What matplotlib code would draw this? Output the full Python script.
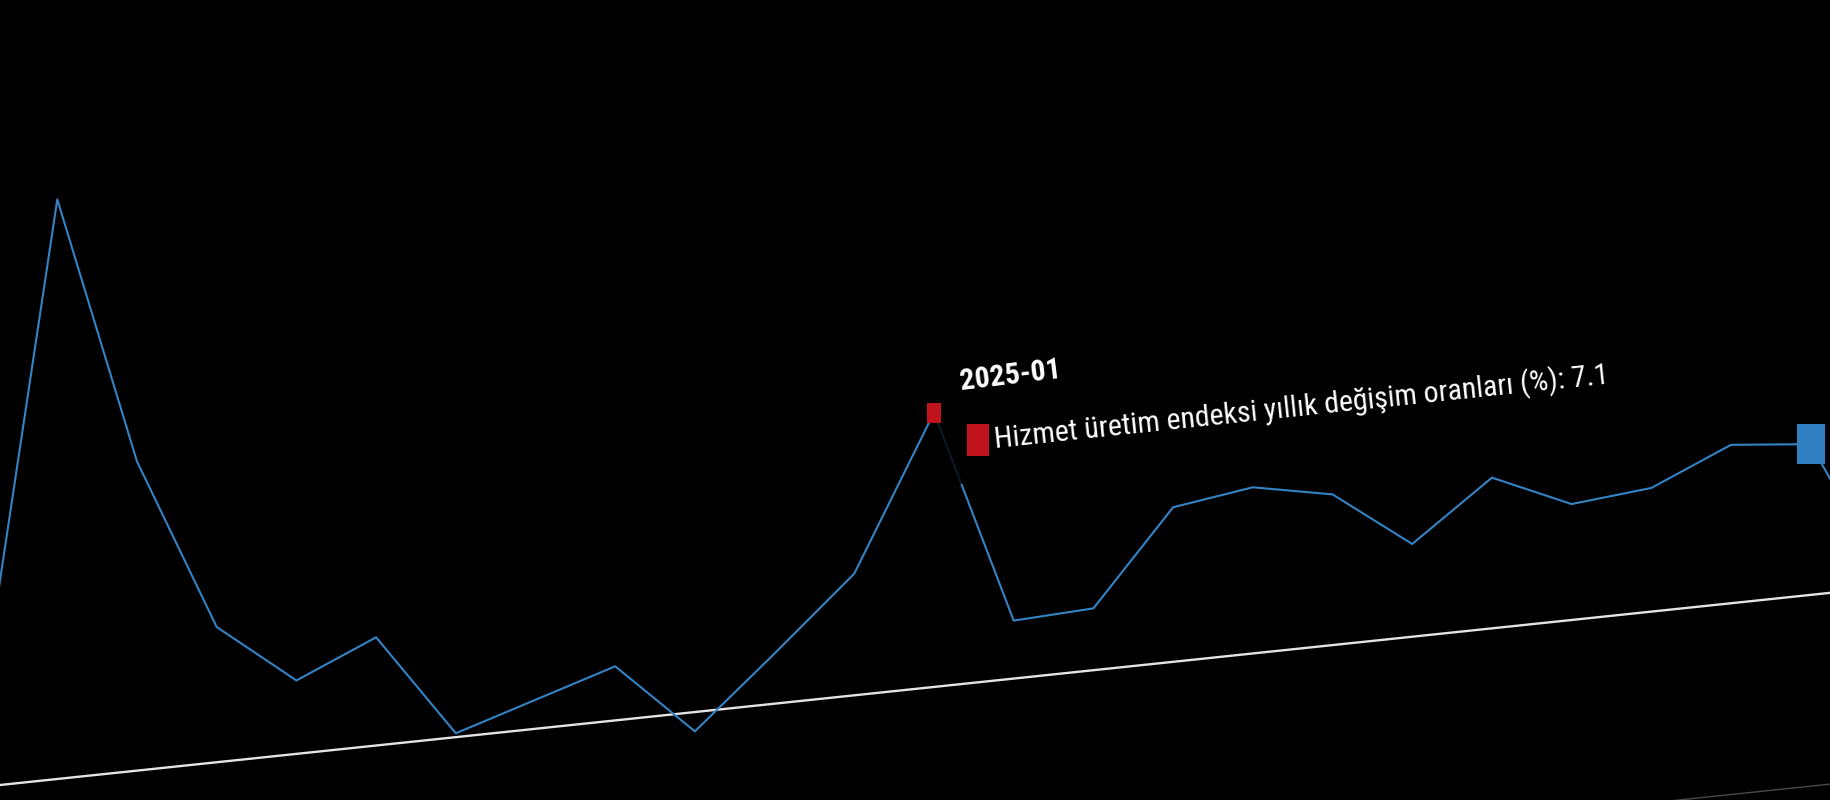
import numpy as np
import matplotlib
matplotlib.use("Agg")
import matplotlib.pyplot as plt
from matplotlib.transforms import Affine2D, offset_copy
from matplotlib.patches import Rectangle
from matplotlib import font_manager

# Data: monthly annual change of the service production index (%)
months = ["2024-01", "2024-02", "2024-03", "2024-04", "2024-05", "2024-06",
          "2024-07", "2024-08", "2024-09", "2024-10", "2024-11", "2024-12",
          "2025-01", "2025-02", "2025-03", "2025-04", "2025-05", "2025-06",
          "2025-07", "2025-08", "2025-09", "2025-10", "2025-11", "2025-12",
          "2026-01"]
values = [1.5, 15.0, 8.0, 3.5, 1.9, 2.8, 0.1, 0.75, 1.4, -0.5, 1.3, 3.15,
          7.1, 1.5, 1.6, 4.0, 4.3, 3.9, 2.4, 3.9, 3.0, 3.2, 4.1, 3.9, 0.0]
series_name = "Hizmet üretim endeksi yıllık değişim oranları"
hover_month = "2025-01"
active_month = "2025-12"

# a narrow sans face, close to the squeezed look of the original
names = {f.name for f in font_manager.fontManager.ttflist}
font = "Liberation Sans"
for cand in ["Roboto Condensed", "Liberation Sans Narrow", "Arial Narrow", "Archivo Narrow"]:
    if cand in names:
        font = cand
        break

x = np.arange(len(months))
ih = months.index(hover_month)
ia = months.index(active_month)

fig = plt.figure(figsize=(18.3, 8), dpi=100, facecolor="black")
ax = fig.add_axes([0, 0, 1, 1])
ax.set_facecolor("black")
ax.axis("off")
ax.set_xlim(0.281, 23.242)
ax.set_ylim(-0.388, 20.315)

# the whole chart is seen at a slant
tilt = Affine2D().skew(0, np.arctan(0.105))
tr = ax.transData + tilt

# axis lines
ax.plot([-2, 30], [0, 0], transform=tr, color="#e4e4e4", lw=1.7, zorder=1)
ax.plot([-2, 30], [-4.95, -4.95], transform=tr, color="#4a4a4a", lw=1, zorder=1)

# series
ax.plot(x, values, transform=tr, color="#3483c4", lw=1.5, zorder=2)

# tooltip background dims the line under it
ax.add_patch(Rectangle((ih + 0.04, 5.18), 8.7, 4.6, transform=tr,
                       facecolor="black", edgecolor="none", alpha=0.8, zorder=2.5))

def box(w, h):
    return [(-w, -h), (w, -h), (w, h), (-w, h), (-w, -h)]

red = "#c0141c"
blue = "#3080c2"
ax.plot(x[ih], values[ih], transform=tr, marker=box(0.357, 0.5), ms=15.1,
        color=red, mew=0, zorder=4)
ax.plot(x[ia], values[ia], transform=tr, marker=box(0.34, 0.5), ms=28.8,
        color=blue, mew=0, zorder=4)

# tooltip
ax.plot(x[ih], values[ih], transform=offset_copy(tr, x=43.7, y=-27.8, units="dots"),
        marker=box(0.33, 0.5), ms=23, color=red, mew=0, zorder=5)
ax.text(x[ih], values[ih], hover_month,
        transform=offset_copy(tr, x=26.7, y=23, units="dots"),
        ha="left", va="baseline", rotation=7, rotation_mode="anchor",
        fontsize=21.5, fontweight="bold", color="white", family=[font, "DejaVu Sans"],
        zorder=5)
ax.text(x[ih], values[ih], f"{series_name} (%): {values[ih]}",
        transform=offset_copy(tr, x=61.7, y=-35.3, units="dots"),
        ha="left", va="baseline", rotation=6, rotation_mode="anchor",
        fontsize=21.5, color="white", family=[font, "DejaVu Sans"], zorder=5)

fig.savefig("out.png", dpi=100, facecolor="black")
